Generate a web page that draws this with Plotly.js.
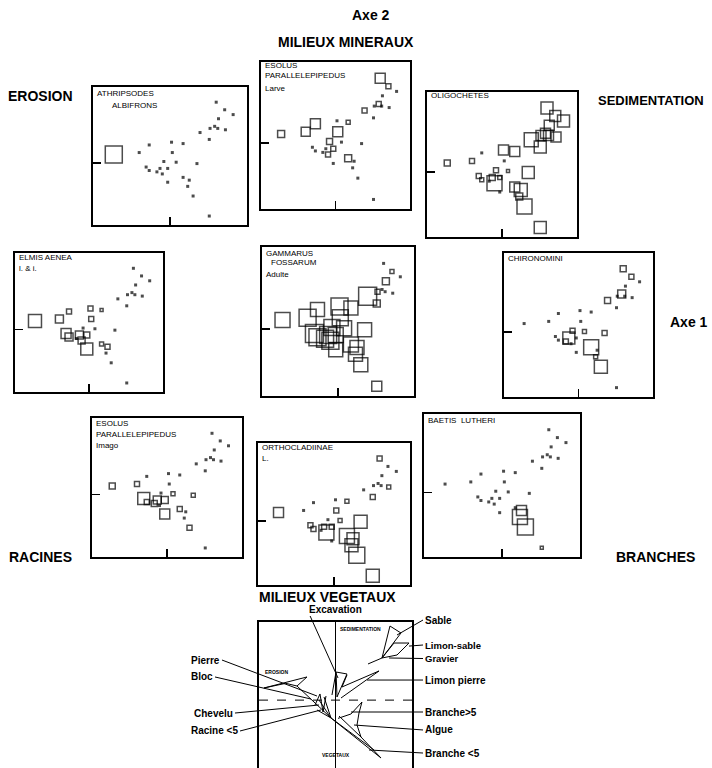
<!DOCTYPE html>
<html><head><meta charset="utf-8">
<script src="https://cdn.plot.ly/plotly-3.0.1.min.js"></script>
<style>html,body{margin:0;padding:0;background:#fff}#chart{width:712px;height:768px}</style>
</head><body><div id="chart"></div>
<script>
// Sample coordinates on the two factorial axes (F1 horizontal, F2 vertical)
const sampleF1 = [-0.73, 0.60, 0.71, 0.82, 0.63, 0.52, 0.58, 0.62, 0.72, 0.39, 0.51, 0.17, 0.02, -0.27, -0.40, 0.03, 0.35, -0.08, 0.08, -0.31, -0.27, -0.13, -0.03, -0.17, -0.10, 0.17, 0.25, -0.03, 0.23, 0.30, 0.51];
const sampleF2 = [0.12, 0.88, 0.77, 0.70, 0.64, 0.50, 0.53, 0.50, 0.48, 0.44, 0.34, 0.28, 0.30, 0.26, 0.15, 0.15, -0.01, 0.02, 0.01, -0.06, -0.11, -0.08, -0.08, -0.13, -0.16, -0.21, -0.25, -0.28, -0.34, -0.48, -0.77];

// Abundance (square side) of each taxon in each sample; 0 = absent (dot)
const athripsodes    = [17,0,0,0,0,0,0,0,0,0,0,0,0,0,0,0,0,0,0,0,0,0,0,0,0,0,0,0,0,0,0];
const esolusLarve    = [7,10,5,0,0,0,5,0,0,5,0,4,0,10,9,10,0,6,0,0,0,0,5,0,5,7,0,0,0,0,0];
const oligochetes    = [6,12,11,12,10,10,10,10,10,14,12,10,10,0,5,0,12,5,3,5,4,6,4,0,15,10,13,0,7,15,12];
const elmisAenea     = [13,0,0,0,0,0,0,0,0,0,0,3,5,5,8,5,0,0,0,10,8,8,6,0,7,4,5,12,0,0,0];
const gammarus       = [15,0,4,0,7,5,0,0,0,18,7,14,17,14,17,16,14,16,15,18,17,17,15,17,17,15,14,14,14,14,10];
const chironomini    = [0,6,5,0,0,0,8,0,0,6,0,0,0,0,0,0,5,5,4,0,0,12,0,5,0,15,0,0,4,13,0];
const esolusImago    = [6,0,0,0,0,0,0,0,0,0,0,0,0,0,5,0,4,0,4,12,5,8,7,6,0,5,0,10,0,5,0];
const orthocladiinae = [10,5,0,0,0,0,0,0,4,0,5,4,0,0,0,5,13,0,4,5,5,5,5,0,15,15,12,0,13,16,13];
const baetis         = [0,0,0,0,0,0,0,0,0,0,0,0,0,0,0,0,0,0,0,0,0,0,0,0,0,0,10,0,15,16,3];

// Panel titles (lines)
const panelTitles = [
  ['ATHRIPSODES','ALBIFRONS'],
  ['ESOLUS','PARALLELEPIPEDUS','Larve'],
  ['OLIGOCHETES'],
  ['ELMIS AENEA','l. & i.'],
  ['GAMMARUS','FOSSARUM','Adulte'],
  ['CHIRONOMINI'],
  ['ESOLUS','PARALLELEPIPEDUS','Imago'],
  ['ORTHOCLADIINAE','L.'],
  ['BAETIS  LUTHERI']
];

// Environment diagram (bottom): polylines separated by null
const networkX = [0.425,0.608,0.712,0.856,0.608,null, 0.608,0.765,0.961,0.804,0.608,null, 0.072,0.569,0.085,0.15,null, 0.02,0.007,0.15,0.059,0.02,null, -0.046,0.007,null, -0.935,-0.373,-0.503,-0.65,-0.935,null, -0.503,-0.059,0.595,null, -0.059,0.503,null, -0.216,-0.059,null, -0.242,-0.059,null, -0.15,-0.059,null, -0.268,-0.203,-0.163,-0.124,null, 0.203,0.346,0.307,0.281,0.333,null, 0.046,0.333,0.595,null, 0.033,0.203];
const networkY = [0.525,0.607,1.045,0.949,0.607,null, 0.607,0.812,0.812,0.648,0.607,null, 0.059,0.429,0.21,0.374,null, 0.073,0.415,0.388,0.168,0.073,null, 0.1,0.415,null, 0.196,0.347,0.223,0.26,0.196,null, 0.223,-0.215,-0.763,null, -0.215,-0.653,null, 0.032,-0.215,null, -0.105,-0.215,null, 0.073,-0.215,null, -0.037,0.114,-0.133,0.086,null, -0.16,0.004,-0.147,-0.311,-0.475,null, -0.188,-0.475,-0.763,null, -0.22,-0.16];

const habitatLabels = ['Excavation','Sable','Limon-sable','Gravier','Limon pierre','Branche&gt;5','Algue','Branche &lt;5','Pierre','Bloc','Chevelu','Racine &lt;5'];
const habitatX = [0.033, 0.804, 0.961, 0.70, 0.412, 0.203, 0.242, 0.438, -0.242, -0.32, -0.216, -0.19];
const habitatY = [0.333, 0.922, 0.770, 0.607, 0.305, -0.133, -0.311, -0.653, 0.086, 0.045, -0.037, -0.105];

// ---------- layout helpers ----------
const W = 712, H = 768;
const panelBoxes = [
  [93,247,87,225],[261,410,62,209],[427,577,92,237],
  [15,163,253,392],[262,414,247,396],[504,653,253,397],
  [92,242,418,557],[258,410,443,585],[424,580,414,557],
  [259,412,622,768]
];
const titleOffsets = [
  [[0,6],[15,18]], [[0,4],[0,14],[0,27]], [[0,4]],
  [[0,5],[0,16]], [[0,7],[5,16],[0,28]], [[0,6]],
  [[0,5],[0,16],[0,27]], [[0,4],[0,15]], [[0,6]]
];
const labelTails = {
  x: [-0.373, 1.144,1.144,1.144,1.144,1.144,1.144,1.144, -1.484,-1.575,-1.314,-1.248],
  y: [1.278, 1.127,0.785,0.600,0.305,-0.133,-0.379,-0.695, 0.579,0.347,-0.147,-0.393],
  side: ['left','left','left','left','left','left','left','left','right','right','right','right']
};

const FONT = 'Liberation Sans, Arial, Helvetica, sans-serif';
const layout = {
  width: W, height: H, margin: {l:0,r:0,t:0,b:0},
  paper_bgcolor: 'white', plot_bgcolor: 'rgba(0,0,0,0)',
  showlegend: false, annotations: [], shapes: [],
  font: {family: FONT, color: 'black'}
};
const traces = [];
const speciesSizes = [athripsodes, esolusLarve, oligochetes, elmisAenea, gammarus, chironomini, esolusImago, orthocladiinae, baetis];

panelBoxes.forEach((b, i) => {
  const n = i + 1, sfx = n === 1 ? '' : String(n);
  const isNet = n === 10;
  layout['xaxis' + sfx] = {
    domain: [b[0]/W, b[1]/W], anchor: 'y' + sfx, range: [-1, 1],
    showline: true, mirror: true, linecolor: 'black', linewidth: 1.6,
    ticks: isNet ? '' : 'inside', tickvals: [0], ticklen: 8, tickwidth: 1.5, tickcolor: 'black',
    showticklabels: false, showgrid: false,
    zeroline: isNet, zerolinecolor: 'black', zerolinewidth: 1.3, fixedrange: true
  };
  layout['yaxis' + sfx] = {
    domain: [1 - b[3]/H, 1 - b[2]/H], anchor: 'x' + sfx, range: [-0.9, 1.1],
    showline: true, mirror: true, linecolor: 'black', linewidth: 1.6,
    ticks: isNet ? '' : 'inside', tickvals: [0], ticklen: 8, tickwidth: 1.5, tickcolor: 'black',
    showticklabels: false, showgrid: false, zeroline: false, fixedrange: true
  };
  if (!isNet) {
    const sizes = speciesSizes[i];
    traces.push({
      type: 'scatter', mode: 'markers', x: sampleF1, y: sampleF2,
      xaxis: 'x' + sfx, yaxis: 'y' + sfx, hoverinfo: 'skip',
      marker: {
        symbol: sizes.map(s => s > 0 ? 'square-open' : 'square'),
        size: sizes.map(s => s > 0 ? s : 3),
        color: 'black',
        line: {color: 'black', width: sizes.map(s => s > 0 ? 1.5 : 0)}
      }
    });
    panelTitles[i].forEach((t, k) => {
      layout.annotations.push({
        xref: 'x' + sfx + ' domain', yref: 'y' + sfx + ' domain', x: 0, y: 1,
        xanchor: 'left', yanchor: 'middle',
        xshift: 2 + titleOffsets[i][k][0], yshift: -titleOffsets[i][k][1],
        text: t, showarrow: false, font: {family: FONT, size: 8, color: 'black'}
      });
    });
  }
});

// bottom environment diagram
traces.push({
  type: 'scatter', mode: 'lines', x: networkX, y: networkY, xaxis: 'x10', yaxis: 'y10',
  line: {color: 'black', width: 1}, hoverinfo: 'skip', connectgaps: false
});
layout.shapes.push({type: 'line', xref: 'x10 domain', yref: 'y10', x0: 0, x1: 1.01, y0: 0.03, y1: 0.03,
  line: {color: 'black', width: 1, dash: 'dash'}});

habitatLabels.forEach((t, k) => {
  layout.annotations.push({
    xref: 'x10', yref: 'y10', axref: 'x10', ayref: 'y10',
    x: habitatX[k], y: habitatY[k], ax: labelTails.x[k], ay: labelTails.y[k],
    text: t, showarrow: true, arrowhead: 0, arrowwidth: 1, arrowcolor: 'black', standoff: 0,
    xanchor: labelTails.side[k], yanchor: 'middle',
    font: {family: FONT, size: (k === 2 || k === 3) ? 9.5 : 10, weight: 700, color: 'black'}
  });
});

// small labels inside the diagram
const tinyLabels = [['SEDIMENTATION',0.333,1.004],['EROSION',-0.765,0.415],['VEGETAUX',0.007,-0.722],['F2',0,1.155],['F1',1.06,0.03]];
tinyLabels.forEach(l => layout.annotations.push({
  xref: 'x10', yref: 'y10', x: l[1], y: l[2], text: l[0], showarrow: false,
  xanchor: 'center', yanchor: 'middle', font: {family: FONT, size: 5, weight: 700, color: 'black'}
}));

// figure-level labels
const bigLabels = [
  ['Axe 2', 371, 15], ['MILIEUX MINERAUX', 346, 42], ['EROSION', 40, 96],
  ['SEDIMENTATION', 651, 100], ['Axe 1', 689, 322], ['RACINES', 40, 557],
  ['BRANCHES', 655, 557], ['MILIEUX VEGETAUX', 327, 597]
];
bigLabels.forEach(l => layout.annotations.push({
  xref: 'paper', yref: 'paper', x: l[1]/W, y: 1 - l[2]/H, text: l[0], showarrow: false,
  xanchor: 'center', yanchor: 'middle',
  font: {family: FONT, size: l[0] === 'SEDIMENTATION' ? 13 : 14, weight: 700, color: 'black'}
}));

Plotly.newPlot('chart', traces, layout, {staticPlot: true, displayModeBar: false});
</script>
</body></html>
